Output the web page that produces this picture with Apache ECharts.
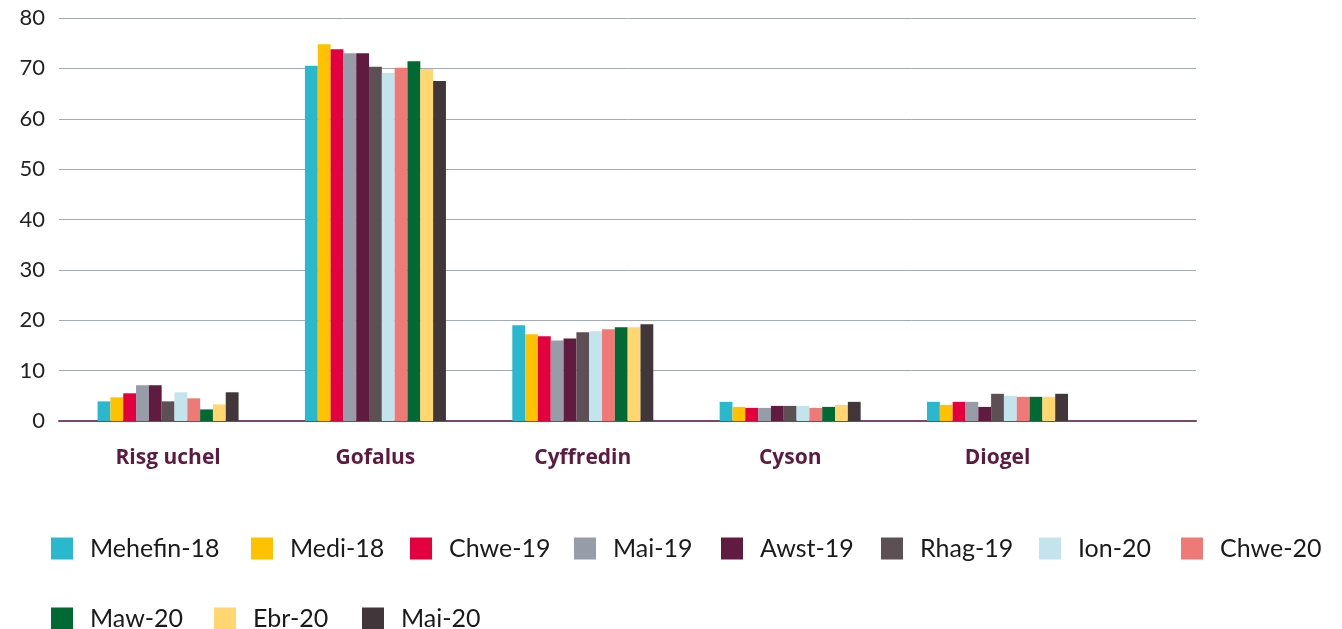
<!DOCTYPE html>
<html>
<head>
<meta charset="utf-8">
<script src="https://cdn.jsdelivr.net/npm/echarts@6/dist/echarts.min.js"></script>
<style>
html,body{margin:0;padding:0;background:#fff;}
#chart{width:1342px;height:629px;}
</style>
</head>
<body>
<div id="chart"></div>
<script>
const categories = ['Risg uchel', 'Gofalus', 'Cyffredin', 'Cyson', 'Diogel'];
const seriesNames = ['Mehefin-18','Medi-18','Chwe-19','Mai-19','Awst-19','Rhag-19','Ion-20','Chwe-20','Maw-20','Ebr-20','Mai-20'];
const colors = ['#29B8CE','#FFC200','#E4003F','#979DA8','#621B40','#5C5055','#C3E4EC','#EF7977','#006934','#FFD670','#41363A'];
const mehefin18 = [3.9, 70.5, 19.0, 3.8, 3.8];
const medi18    = [4.7, 74.8, 17.2, 2.8, 3.2];
const chwe19    = [5.5, 73.8, 16.8, 2.6, 3.8];
const mai19     = [7.1, 73.0, 16.0, 2.6, 3.8];
const awst19    = [7.1, 73.0, 16.4, 3.0, 2.8];
const rhag19    = [3.9, 70.3, 17.6, 3.0, 5.4];
const ion20     = [5.7, 69.1, 17.8, 3.0, 5.0];
const chwe20    = [4.5, 70.1, 18.2, 2.6, 4.8];
const maw20     = [2.3, 71.4, 18.6, 2.8, 4.8];
const ebr20     = [3.3, 69.9, 18.6, 3.2, 4.8];
const mai20     = [5.7, 67.5, 19.2, 3.8, 5.4];
const allValues = [mehefin18, medi18, chwe19, mai19, awst19, rhag19, ion20, chwe20, maw20, ebr20, mai20];
const yTicks = [0, 10, 20, 30, 40, 50, 60, 70, 80];

// legend item placement (layout only)
const legendLeft = [51, 251, 410, 574, 721, 881, 1039, 1181, 51, 214, 362];
const legendTop  = [536, 536, 536, 536, 536, 536, 536, 536, 606, 606, 606];

const chart = echarts.init(document.getElementById('chart'), null, {renderer: 'canvas'});

const barSeries = seriesNames.map((name, i) => ({
  name: name,
  type: 'bar',
  xAxisIndex: 1,
  yAxisIndex: 1,
  data: allValues[i],
  itemStyle: {color: colors[i]},
  barGap: '0%',
  barCategoryGap: '32%',
  emphasis: {disabled: true}
}));

const legends = seriesNames.map((name, i) => ({
  data: [name],
  left: legendLeft[i],
  top: legendTop[i],
  icon: 'rect',
  itemWidth: 22,
  itemHeight: 22,
  padding: 0,
  textStyle: {fontFamily: 'Lato', fontSize: 25, color: '#1a1a1a', padding: [0, 0, 0, 12]},
  selectedMode: false
}));

chart.setOption({
  animation: false,
  grid: [
    {left: 59, right: 146, top: 18, bottom: 208, containLabel: false},
    {left: 64.4, right: 240.8, top: 18, bottom: 208, containLabel: false}
  ],
  xAxis: [
    {gridIndex: 0, type: 'value', min: 0, max: 1, show: true,
     axisLine: {show: true, onZero: true, lineStyle: {color: '#7b4868', width: 2}},
     axisTick: {show: false}, axisLabel: {show: false}, splitLine: {show: false}},
    {gridIndex: 1, type: 'category', data: categories,
     axisLine: {show: false}, axisTick: {show: false}, splitLine: {show: false},
     axisLabel: {fontFamily: 'Open Sans', fontSize: 21, fontWeight: 'bold', color: '#5E1B40', margin: 27}}
  ],
  yAxis: [
    {gridIndex: 0, type: 'value', min: yTicks[0], max: yTicks[yTicks.length-1], interval: 10,
     axisLine: {show: false}, axisTick: {show: false},
     axisLabel: {fontFamily: 'Lato', fontSize: 22, color: '#222', margin: 14},
     splitLine: {show: true, lineStyle: {color: '#A2AAB6', width: 1}}},
    {gridIndex: 1, type: 'value', min: 0, max: 80, interval: 10, show: false,
     splitLine: {show: false}}
  ],
  legend: legends,
  series: [{type: 'scatter', xAxisIndex: 0, yAxisIndex: 0, data: [], silent: true}].concat(barSeries)
});
</script>
</body>
</html>
